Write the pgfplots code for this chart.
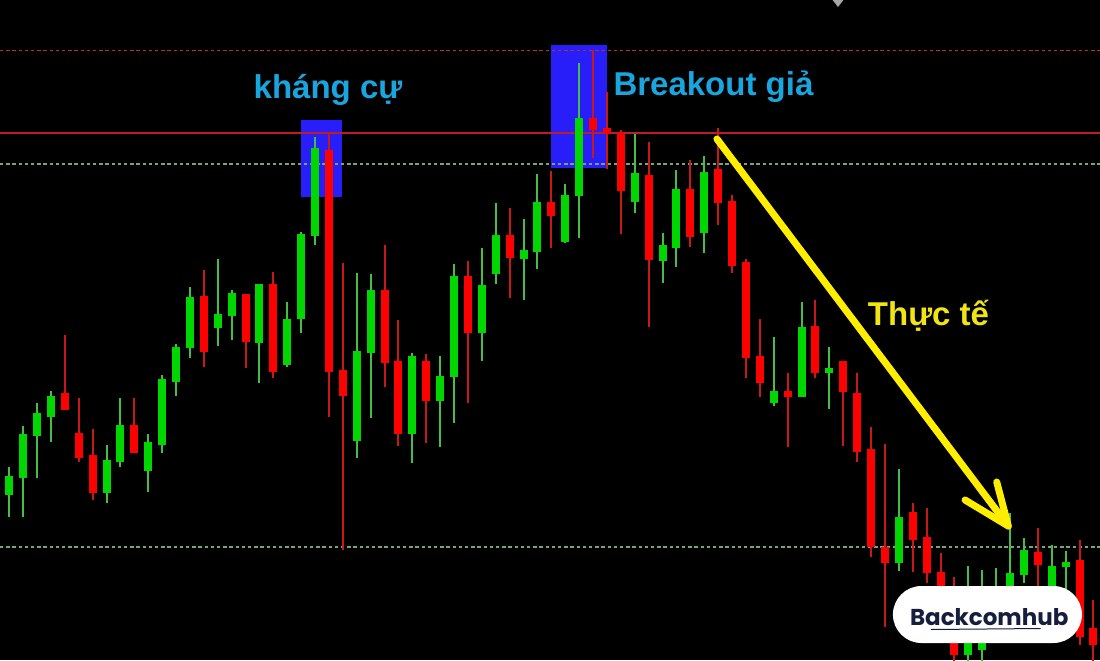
\documentclass[border=0pt]{standalone}
\usepackage{pgfplots}
\pgfplotsset{compat=1.18}
\usepackage{pgfplotstable}
\usepackage{fontspec}
\setmainfont{Liberation Sans}
\newfontfamily\logofont{Poppins}
\definecolor{gbody}{RGB}{0,215,0}
\definecolor{gwick}{RGB}{70,190,70}
\definecolor{rbody}{RGB}{255,0,0}
\definecolor{rwick}{RGB}{200,25,25}
\definecolor{boxblue}{RGB}{40,30,250}
\definecolor{cyantext}{RGB}{25,165,222}
\definecolor{ytext}{RGB}{240,228,20}
\definecolor{yarrow}{RGB}{255,238,0}
\definecolor{reddash}{RGB}{180,45,55}
\definecolor{redline}{RGB}{190,30,35}
\definecolor{greendash}{RGB}{120,165,120}
\definecolor{navy}{RGB}{22,30,60}

% i = candle index, o h l c = open high low close (price units)
\pgfplotstableread{
i o h l c
0 165 193 143 184
1 182 234 143 226
2 224 257 182 247
3 243 269 218 264
7 167 215 157 200
8 198 262 193 235
10 189 226 168 218
11 215 285 207 281
12 278 316 264 313
13 312 373 302 363
15 332 401 314 346
16 344 370 320 367
18 317 376 277 376
20 295 358 293 341
21 341 428 327 426
22 424 523 415 512
25 219 387 202 309
26 307 386 242 370
29 226 307 197 304
31 259 304 213 284
32 283 396 237 384
34 327 412 299 375
35 386 457 376 425
37 401 441 360 410
38 408 486 391 458
40 418 476 417 465
41 464 597 422 542
45 458 526 447 487
47 399 427 377 415
48 412 490 393 471
50 427 504 407 488
55 257 323 254 269
57 263 358 263 333
59 287 313 251 292
64 97 191 89 143
69 5 94 -10 50
70 10 90 -10 30
71 35 92 20 60
72 40 147 30 87
73 85 122 77 110
75 60 115 30 94
76 93 109 60 98
}\greentab

\pgfplotstableread{
i o h l c
4 267 325 250 250
5 227 262 198 202
6 205 231 160 167
9 235 262 207 207
14 364 390 293 308
17 366 366 292 318
19 376 388 282 288
23 510 528 243 288
24 290 397 110 264
27 370 415 273 297
28 299 340 214 226
30 299 306 217 259
33 384 399 257 327
36 425 452 362 402
39 458 489 412 444
42 542 610 502 530
43 532 568 491 527
44 527 530 426 469
46 485 518 333 400
49 471 500 413 423
51 491 532 435 457
52 459 465 387 394
53 398 401 282 302
54 304 341 263 277
56 269 287 213 263
58 334 360 282 287
60 299 299 214 268
61 267 287 198 208
62 211 233 103 113
63 113 216 33 97
65 148 157 88 120
66 123 152 77 87
67 88 107 40 60
68 60 83 -10 5
74 108 132 70 95
77 100 120 15 23
78 32 60 -10 15
}\redtab

\begin{document}
\begin{tikzpicture}
\begin{axis}[
  width=550pt, height=330pt, scale only axis,
  xmin=-0.669, xmax=78.47, ymin=0, ymax=660,
  axis line style={draw=none}, xtick=\empty, ytick=\empty,
  axis background/.style={fill=black},
  clip=true,
  candle/.style={only marks, mark=none, mark size=0pt, mark options={draw=none, fill=none}},
]
% highlight boxes
\fill[boxblue] (axis cs:20.98,463) rectangle (axis cs:23.93,540);
\fill[boxblue] (axis cs:38.97,492) rectangle (axis cs:42.99,615);
% horizontal levels
\addplot[reddash, line width=0.9pt, dash pattern=on 1.7pt off 1.4pt] coordinates {(-0.669,609.5) (78.47,609.5)};
\addplot[redline, line width=0.9pt] coordinates {(-0.669,527) (78.47,527)};
\addplot[greendash, line width=0.7pt, dash pattern=on 1.7pt off 1.4pt] coordinates {(-0.669,496) (78.47,496)};
\addplot[greendash, line width=0.7pt, dash pattern=on 1.7pt off 1.4pt] coordinates {(-0.669,113) (78.47,113)};
% wicks
\addplot[candle, error bars/.cd, y dir=plus, y explicit, error mark=none,
  error bar style={draw=gwick, line width=1pt}]
  table[x=i, y=l, y error plus expr=\thisrow{h}-\thisrow{l}] {\greentab};
\addplot[candle, error bars/.cd, y dir=plus, y explicit, error mark=none,
  error bar style={draw=rwick, line width=1pt}]
  table[x=i, y=l, y error plus expr=\thisrow{h}-\thisrow{l}] {\redtab};
% bodies
\addplot[candle, error bars/.cd, y dir=plus, y explicit, error mark=none,
  error bar style={draw=gbody, line width=4pt}]
  table[x=i, y=o, y error plus expr=\thisrow{c}-\thisrow{o}] {\greentab};
\addplot[candle, error bars/.cd, y dir=plus, y explicit, error mark=none,
  error bar style={draw=rbody, line width=4pt}]
  table[x=i, y=c, y error plus expr=\thisrow{o}-\thisrow{c}] {\redtab};
% labels
\node[anchor=base, text=cyantext, font=\fontsize{16.5}{18}\selectfont\bfseries] at (axis cs:22.93,561) {kháng cự};
\node[anchor=base, text=cyantext, font=\fontsize{16.5}{18}\selectfont\bfseries] at (axis cs:50.66,564) {Breakout giả};
\node[anchor=base, text=ytext, font=\fontsize{16.5}{18}\selectfont\bfseries] at (axis cs:66.13,335) {Thực tế};
% arrow
\draw[yarrow, line width=3.5pt, line cap=round, line join=round] (axis cs:50.91,521) -- (axis cs:71.87,134);
\draw[yarrow, line width=3.5pt, line cap=round, line join=round] (axis cs:68.76,160) -- (axis cs:71.87,134) -- (axis cs:71.04,178);
% top marker
\fill[gray!70] (axis cs:59.12,662) -- (axis cs:59.62,653) -- (axis cs:60.12,662) -- cycle;
% logo
\node[fill=white, rounded corners=14.25pt, minimum width=94.5pt, minimum height=28.5pt, inner sep=0pt] at (axis cs:70.37,45.5) {};
\node[anchor=base, text=navy, font=\logofont\fontsize{11.5}{13}\selectfont\bfseries] at (axis cs:70.5,35) {Backcomhub};
\draw[navy, line width=0.5pt] (axis cs:66.3,30.5) -- (axis cs:74.2,31.5);
\end{axis}
\end{tikzpicture}
\end{document}
